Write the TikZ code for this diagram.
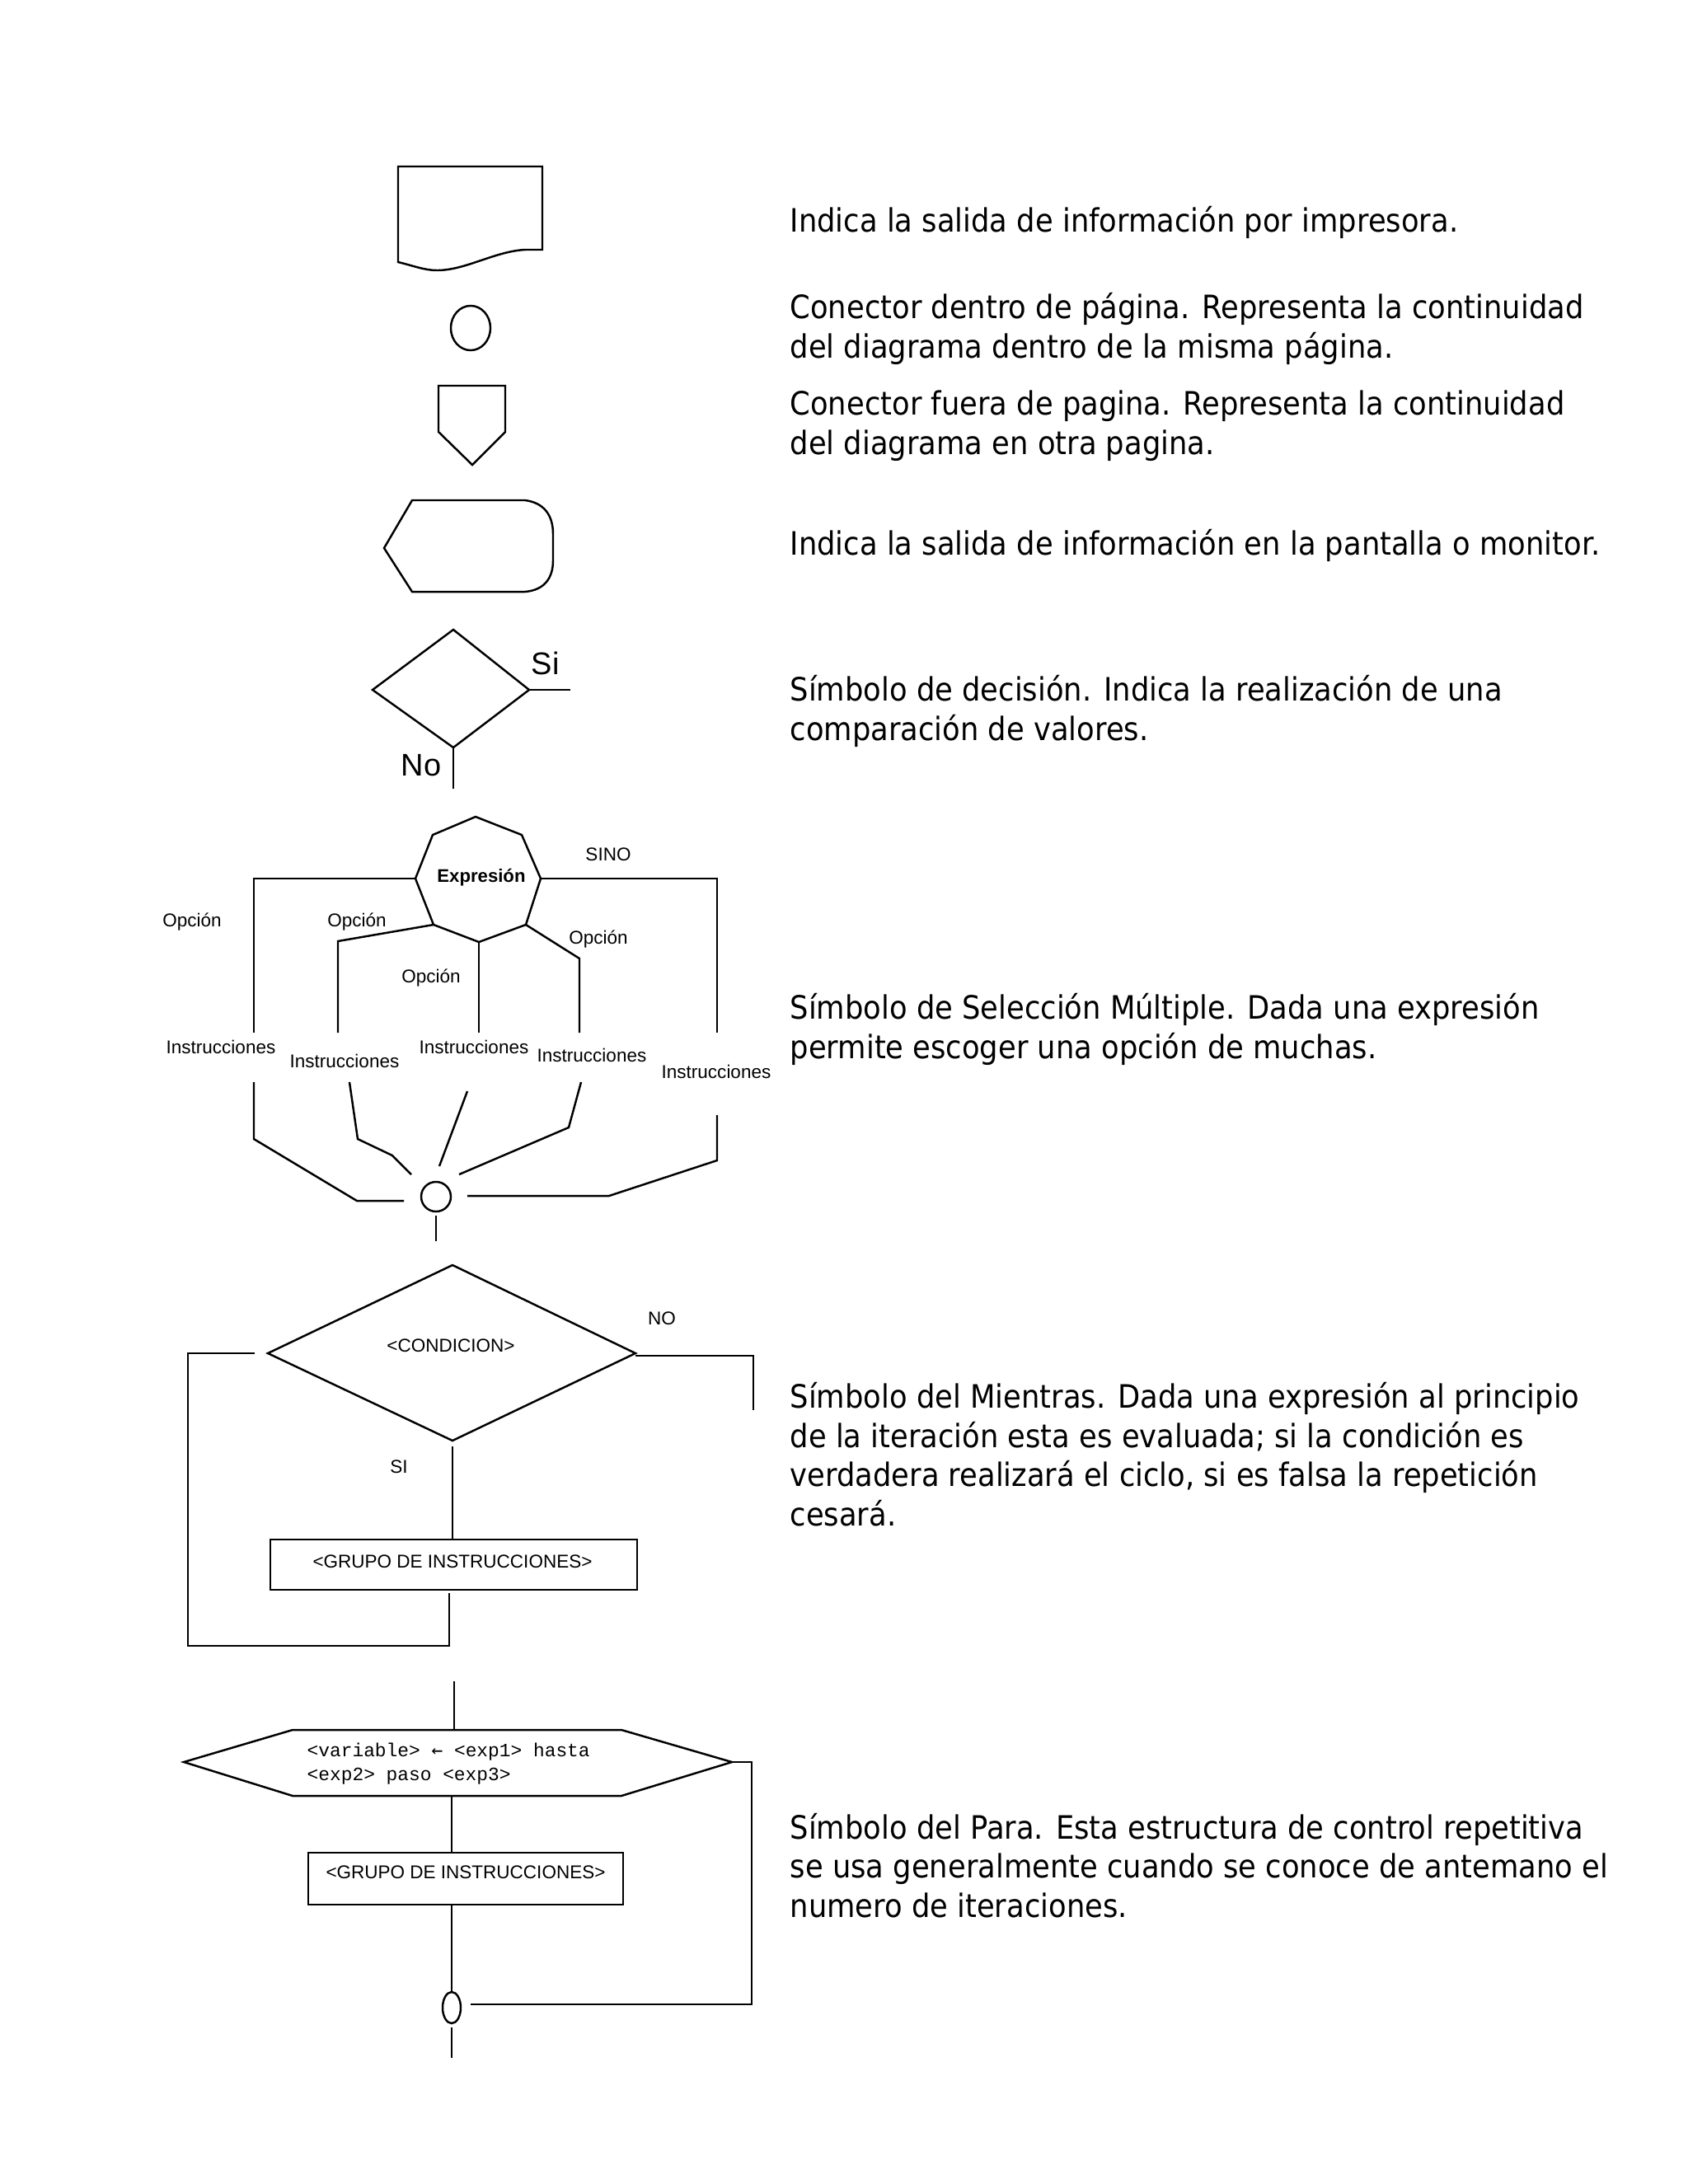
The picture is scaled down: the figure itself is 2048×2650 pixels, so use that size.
\documentclass[tikz,border=0pt]{standalone}
\usepackage{fontspec}
\newfontfamily\descfont[FakeStretch=0.905]{DejaVu Sans}
\newfontfamily\lblfont{Liberation Sans}
\newfontfamily\codefont{Liberation Mono}
\newfontfamily\arrowfont{DejaVu Sans Mono}
\usetikzlibrary{positioning}

\tikzset{
  sym/.style={line width=0.7pt, line join=miter},
  desc/.style={anchor=base west, inner sep=0pt, align=left,
    font=\descfont\fontsize{11.1pt}{13.5pt}\selectfont},
  lbl/.style={inner sep=0pt, font=\lblfont\fontsize{6.4pt}{7.5pt}\selectfont},
  bigl/.style={anchor=base west, inner sep=0pt, font=\lblfont\fontsize{10.8pt}{12pt}\selectfont},
  codel/.style={anchor=base west, inner sep=0pt, align=left,
    font=\codefont\fontsize{6.5pt}{8pt}\selectfont},
}

\begin{document}
\begin{tikzpicture}[x=0.01cm, y=-0.01cm]
\useasboundingbox (0,0) rectangle (2048,2650);

  \draw[sym] (483,318) .. controls (500,322) and (515,328) .. (530,328)
    .. controls (565,328) and (600,305) .. (637,303) -- (658,303)
    -- (658,202) -- (483,202) -- cycle;
  \draw[sym] (571,398) ellipse (0.24cm and 0.27cm);
  \draw[sym] (532,468) -- (613,468) -- (613,524) -- (573,564) -- (532,524) -- cycle;
  \draw[sym] (466,665) -- (500,607) -- (637,607) .. controls (660,610) and (671,625) .. (671,648)
    -- (671,680) .. controls (671,702) and (660,716) .. (637,718) -- (500,718) -- cycle;

  \coordinate (dT) at (550,764);
  \coordinate (dR) at (642,837);
  \coordinate (dB) at (550,907);
  \draw[sym] (dT) -- (dR) -- (dB) -- (452,837) -- cycle;
  \coordinate (siEnd) at (692,837);
  \coordinate (noEnd) at (550,957);
  \draw[sym] (dR) -- (siEnd);
  \draw[sym] (dB) -- (noEnd);
  \node[bigl] (si) at (644,818) {Si};
  \node[bigl] (no) at (486,941) {No};

  \coordinate (xL) at (504,1066);
  \coordinate (xR) at (656,1066);
  \coordinate (xLL) at (526,1122);
  \coordinate (xB) at (581,1143);
  \coordinate (xLR) at (638,1122);
  \draw[sym] (577,991) -- (633,1013) -- (xR) -- (xLR) -- (xB) -- (xLL) -- (xL) -- (525,1013) -- cycle;
  \node[lbl, font=\lblfont\bfseries\fontsize{6.3pt}{7.5pt}\selectfont] (expr) at (584,1065) {Expresión};
  \node[lbl] (sino) at (738,1037) {SINO};
  \draw[sym] (xL) -- (308,1066) -- (308,1253);
  \draw[sym] (xLL) -- (410,1142) -- (410,1253);
  \draw[sym] (xB) -- (581,1253);
  \draw[sym] (xLR) -- (703,1163) -- (703,1253);
  \draw[sym] (xR) -- (870,1066) -- (870,1253);
  \node[lbl] (op1) at (233,1119) {Opción};
  \node[lbl] (op2) at (433,1119) {Opción};
  \node[lbl] (op3) at (523,1187) {Opción};
  \node[lbl] (op4) at (726,1140) {Opción};
  \node[lbl] (in1) at (268,1270) {Instrucciones};
  \node[lbl] (in2) at (418,1287) {Instrucciones};
  \node[lbl] (in3) at (575,1270) {Instrucciones};
  \node[lbl] (in4) at (718,1280) {Instrucciones};
  \node[lbl] (in5) at (869,1300) {Instrucciones};
  \coordinate (m1) at (490,1457);
  \coordinate (m2) at (499,1425);
  \coordinate (m3) at (533,1415);
  \coordinate (m4) at (557,1425);
  \coordinate (m5) at (567,1451);
  \draw[sym] (308,1313) -- (308,1382) -- (433,1457) -- (m1);
  \draw[sym] (424,1313) -- (434,1382) -- (476,1402) -- (m2);
  \draw[sym] (567,1324) -- (m3);
  \draw[sym] (705,1313) -- (690,1368) -- (m4);
  \draw[sym] (870,1353) -- (870,1408) -- (739,1451) -- (m5);
  \draw[sym] (529,1452) circle (0.18cm);
  \draw[sym] (529,1475) -- (529,1506);

  \coordinate (wT) at (549,1535);
  \coordinate (wL) at (325,1642);
  \coordinate (wR) at (771,1642);
  \coordinate (wB) at (549,1748);
  \draw[sym] (wT) -- (wR) -- (wB) -- (wL) -- cycle;
  \node[lbl] (cond) at (547,1633) {<CONDICION>};
  \node[lbl] (nol) at (803,1600) {NO};
  \node[lbl] (sil) at (484,1780) {SI};
  \node[sym, draw, lbl, minimum width=4.45cm, minimum height=0.61cm] (grp1) at (550.5,1898.5) {};
  \node[lbl] (grp1t) at (549,1895) {<GRUPO DE INSTRUCCIONES>};
  \draw[sym] (549,1755) -- (grp1.north -| 549,0);
  \draw[sym] (wR) ++(0,3) -- (914,1645) -- (914,1711);
  \draw[sym] (309,1642) -- (228,1642) -- (228,1997) -- (545,1997) -- (545,1933);

  \coordinate (pL) at (223,2138);
  \coordinate (pR) at (888,2138);
  \draw[sym] (pL) -- (355,2099) -- (754,2099) -- (pR) -- (754,2179) -- (355,2179) -- cycle;
  \draw[sym] (551,2040) -- (551,2099);
  \node[codel] (para) at (372,2160) {<variable> {\arrowfont ←} <exp1> hasta\\<exp2> paso <exp3>};
  \node[sym, draw, lbl, minimum width=3.82cm, minimum height=0.63cm] (grp2) at (565,2279.5) {};
  \node[lbl] (grp2t) at (565,2272) {<GRUPO DE INSTRUCCIONES>};
  \draw[sym] (548,2179) -- (548,2248);
  \draw[sym] (548,2311) -- (548,2417);
  \draw[sym] (548,2436) ellipse (0.11cm and 0.19cm);
  \draw[sym] (548,2460) -- (548,2497);
  \draw[sym] (pR) -- (912,2138) -- (912,2432) -- (571,2432);

  \node[desc] (t1) at (958,281) {Indica la salida de información por impresora.};
  \node[desc] (t2) at (958,434) {Conector dentro de página. Representa la continuidad\\del diagrama dentro de la misma página.};
  \node[desc] (t3) at (958,551) {Conector fuera de pagina. Representa la continuidad\\del diagrama en otra pagina.};
  \node[desc] (t4) at (958,673) {Indica la salida de información en la pantalla o monitor.};
  \node[desc] (t5) at (958,898) {Símbolo de decisión. Indica la realización de una\\comparación de valores.};
  \node[desc] (t6) at (958,1284) {Símbolo de Selección Múltiple. Dada una expresión\\permite escoger una opción de muchas.};
  \node[desc] (t7) at (958,1851) {Símbolo del Mientras. Dada una expresión al principio\\de la iteración esta es evaluada; si la condición es\\verdadera realizará el ciclo, si es falsa la repetición\\cesará.};
  \node[desc] (t8) at (958,2326) {Símbolo del Para. Esta estructura de control repetitiva\\se usa generalmente cuando se conoce de antemano el\\numero de iteraciones.};
\end{tikzpicture}
\end{document}
